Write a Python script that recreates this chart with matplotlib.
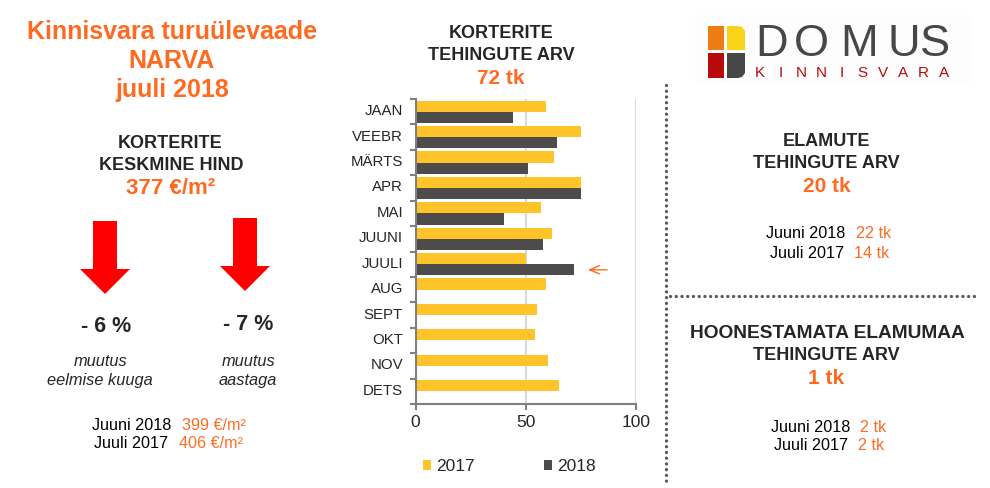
import numpy as np
import matplotlib
matplotlib.use("Agg")
import matplotlib.pyplot as plt
from matplotlib.patches import Polygon, Rectangle

plt.rcParams['font.family'] = ['Liberation Sans', 'DejaVu Sans']

months = ['JAAN', 'VEEBR', 'MÄRTS', 'APR', 'MAI', 'JUUNI', 'JUULI', 'AUG', 'SEPT', 'OKT', 'NOV', 'DETS']
deals_2017 = [59, 75, 63, 75, 57, 62, 50, 59, 55, 54, 60, 65]
deals_2018 = [44, 64, 51, 75, 40, 58, 72]
x_ticks = [0, 50, 100]

ORANGE = '#FF6A21'
DARK = '#262626'
YELLOW = '#FFC429'
GREY = '#4D4C4A'
W, H = 990, 488

fig = plt.figure(figsize=(W / 100, H / 100), dpi=100, facecolor='white')

# overlay in pixel coordinates for the text panels
bg = fig.add_axes([0, 0, 1, 1])
bg.set_xlim(0, W)
bg.set_ylim(H, 0)
bg.axis('off')


def label(x, y, s, size=11.6, color=DARK, weight='normal', style='normal', ha='center', **kw):
    bg.text(x, y + 1, s, fontsize=size, color=color, fontweight=weight, fontstyle=style,
            ha=ha, va='center', **kw)


# left panel
label(172, 31, 'Kinnisvara turuülevaade', 18, ORANGE, 'bold')
label(172, 60, 'NARVA', 18, ORANGE, 'bold')
label(172, 89, 'juuli 2018', 18, ORANGE, 'bold')
label(170, 142, 'KORTERITE', 13, DARK, 'bold')
label(171, 164, 'KESKMINE HIND', 13, DARK, 'bold')
label(171, 188, '377 €/m²', 16, ORANGE, 'bold')


def down_arrow(cx, top):
    pts = [(cx - 12, top), (cx + 12, top), (cx + 12, top + 48), (cx + 25, top + 48),
           (cx, top + 73), (cx - 25, top + 48), (cx - 12, top + 48)]
    bg.add_patch(Polygon(pts, closed=True, fc='#FF0000', ec='none'))


down_arrow(105, 221)
down_arrow(245, 218)
label(106, 325, '- 6 %', 15.5, DARK, 'bold')
label(248, 324, '- 7 %', 15.5, DARK, 'bold')
label(101, 360, 'muutus', 11.8, DARK, style='italic')
label(100, 380, 'eelmise kuuga', 11.8, DARK, style='italic')
label(249, 360, 'muutus', 11.8, DARK, style='italic')
label(248, 379, 'aastaga', 11.8, DARK, style='italic')
label(171, 424, 'Juuni 2018', color='black', ha='right')
label(182, 424, '399 €/m²', color=ORANGE, ha='left')
label(168, 443, 'Juuli 2017', color='black', ha='right')
label(179, 443, '406 €/m²', color=ORANGE, ha='left')

# middle titles
label(501, 32, 'KORTERITE', 13, DARK, 'bold')
label(501, 54, 'TEHINGUTE ARV', 13, DARK, 'bold')
label(501, 77, '72 tk', 15, ORANGE, 'bold')

# right panel
label(826, 141, 'ELAMUTE', 13, DARK, 'bold')
label(826, 163, 'TEHINGUTE ARV', 13, DARK, 'bold')
label(827, 186, '20 tk', 15, ORANGE, 'bold')
label(845, 233, 'Juuni 2018', color='black', ha='right')
label(856, 233, '22 tk', color=ORANGE, ha='left')
label(844, 252, 'Juuli 2017', color='black', ha='right')
label(854, 252, '14 tk', color=ORANGE, ha='left')
label(827, 333, 'HOONESTAMATA ELAMUMAA', 13.8, DARK, 'bold')
label(826, 355, 'TEHINGUTE ARV', 13, DARK, 'bold')
label(826, 378, '1 tk', 15, ORANGE, 'bold')
label(850, 426, 'Juuni 2018', color='black', ha='right')
label(860, 426, '2 tk', color=ORANGE, ha='left')
label(848, 445, 'Juuli 2017', color='black', ha='right')
label(858, 445, '2 tk', color=ORANGE, ha='left')

# dotted separators
bg.plot([666, 666], [85, 486], color='#595959', lw=2.4, ls=(0, (0.01, 1.71)), dash_capstyle='round')
bg.plot([670, 978], [296, 296], color='#595959', lw=2.4, ls=(0, (0.01, 1.71)), dash_capstyle='round')

# logo
bg.add_patch(Rectangle((695, 15), 275, 68, fc='#FDFDFD', ec='none'))
bg.add_patch(Rectangle((708, 26), 16, 24, fc='#EE7B14', ec='none'))
bg.add_patch(Polygon([(727, 26), (738, 26), (742, 27), (745, 31), (745, 50), (727, 50)], fc='#F9D21A', ec='none'))
bg.add_patch(Rectangle((708, 53), 16, 25, fc='#B80A0A', ec='none'))
bg.add_patch(Polygon([(727, 53), (745, 53), (745, 73), (742, 77), (738, 78), (727, 78)], fc='#474747', ec='none'))
for cx, ch in zip([772, 811, 859, 904, 935], 'DOMUS'):
    label(cx, 44, ch, 32.5, '#474747')
for cx, ch in zip(np.linspace(760, 944, 10), 'KINNISVARA'):
    label(cx, 72, ch, 11, '#B80A0A')

# bar chart
ax = fig.add_axes([415.5 / W, 1 - 404 / H, (636 - 415.5) / W, (404 - 99) / H])
pos = np.arange(len(months))
bar_h = 0.44
ax.barh(pos[:len(deals_2017)] - bar_h / 2, deals_2017, height=bar_h, color=YELLOW, label='2017', zorder=2)
ax.barh(pos[:len(deals_2018)] + bar_h / 2, deals_2018, height=bar_h, color=GREY, label='2018', zorder=2)
ax.set_xlim(0, 100)
ax.set_ylim(len(months) - 0.5, -0.5)
ax.set_xticks(x_ticks)
ax.set_yticks(np.arange(len(months) + 1) - 0.5, minor=False)
ax.set_yticklabels([])
ax.set_yticks(pos - 0.08, minor=True)
ax.set_yticklabels(months, minor=True, fontsize=10.8, color=DARK)
ax.tick_params(axis='y', which='major', length=4, width=1.5, color='#808080')
ax.tick_params(axis='y', which='minor', length=0, pad=9)
ax.tick_params(axis='x', length=4, width=1.5, color='#808080', labelsize=12.5, labelcolor=DARK, direction='out', pad=4)
ax.grid(axis='x', color='#D9D9D9', lw=1.5, zorder=0)
ax.set_axisbelow(True)
for side in ['top', 'right']:
    ax.spines[side].set_visible(False)
for side in ['left', 'bottom']:
    ax.spines[side].set_color('#808080')
    ax.spines[side].set_linewidth(1.5)
ax.patch.set_alpha(0)
ax.legend(loc='upper left', bbox_to_anchor=(-0.038, -0.13), ncol=2, frameon=False, fontsize=12.5,
          handlelength=0.45, handleheight=0.45, handletextpad=0.3, columnspacing=4.0, labelcolor=DARK)

# arrow next to JUULI
ax.annotate('', xy=(78.2, 6.22), xytext=(86.9, 6.22),
            arrowprops=dict(arrowstyle='->,head_width=0.3,head_length=0.7', color=ORANGE, lw=1,
                            shrinkA=0, shrinkB=0))

fig.savefig('out.png', dpi=100)
